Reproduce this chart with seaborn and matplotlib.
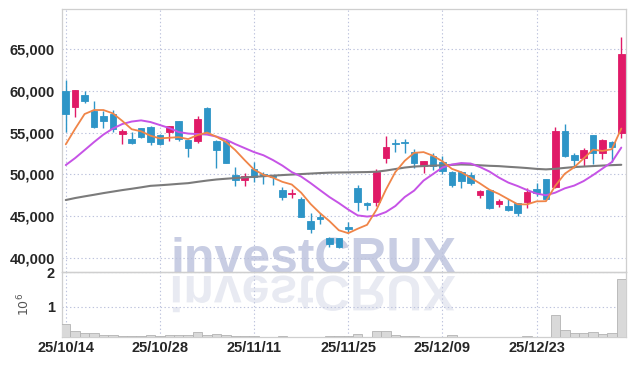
import numpy as np
import pandas as pd
import seaborn as sns
import matplotlib
matplotlib.use("Agg")
import matplotlib.pyplot as plt
import matplotlib.ticker as mticker
from matplotlib.textpath import TextPath
from matplotlib.patches import PathPatch
from matplotlib.font_manager import FontProperties
from matplotlib.transforms import Affine2D

# ---------------- data ----------------
dates = ["25/10/14", "25/10/15", "25/10/16", "25/10/17", "25/10/20", "25/10/21", "25/10/22", "25/10/23",
         "25/10/24", "25/10/27", "25/10/28", "25/10/29", "25/10/30", "25/10/31", "25/11/03", "25/11/04",
         "25/11/05", "25/11/06", "25/11/07", "25/11/10", "25/11/11", "25/11/12", "25/11/13", "25/11/14",
         "25/11/17", "25/11/18", "25/11/19", "25/11/20", "25/11/21", "25/11/24", "25/11/25", "25/11/26",
         "25/11/27", "25/11/28", "25/12/01", "25/12/02", "25/12/03", "25/12/04", "25/12/05", "25/12/08",
         "25/12/09", "25/12/10", "25/12/11", "25/12/12", "25/12/15", "25/12/16", "25/12/17", "25/12/18",
         "25/12/19", "25/12/22", "25/12/23", "25/12/24", "25/12/26", "25/12/29", "25/12/30", "26/01/02",
         "26/01/05", "26/01/06", "26/01/07", "26/01/08"]

open_ = [60000, 58090, 59490, 57570, 57010, 57180, 54860, 54190, 55540, 55660,
         54700, 55100, 56380, 54100, 54020, 57970, 54020, 54020, 49910, 49280,
         50630, 50070, 49910, 48110, 47640, 47000, 44440, 44840, 42400, 42400,
         43650, 48320, 46520, 46640, 51980, 53780, 53900, 52630, 50990, 52190,
         51510, 50310, 50310, 49910, 47510, 48110, 46470, 46200, 46520, 46710,
         48200, 49400, 48510, 55180, 52310, 51980, 54700, 52510, 53860, 54900]
high = [61290, 60090, 60000, 58770, 57570, 57700, 55380, 55100, 55600, 55780,
        54820, 55800, 56420, 54150, 57010, 58090, 54100, 54190, 50830, 50110,
        51430, 50310, 49950, 48440, 48230, 47310, 45320, 45400, 42450, 42420,
        44320, 48710, 46710, 50590, 54580, 54220, 54220, 52990, 51600, 52510,
        52190, 50400, 50400, 50230, 48100, 48150, 47040, 47000, 46600, 48320,
        48920, 49450, 55620, 56020, 52600, 53180, 54750, 54200, 53980, 66470]
low = [55100, 56820, 58500, 55570, 55570, 55100, 53620, 53590, 54400, 53500,
       53540, 53980, 54020, 52100, 53780, 55000, 50710, 51380, 48590, 48590,
       49110, 48870, 48750, 46920, 47120, 44900, 43000, 44040, 41250, 41200,
       43120, 45630, 45720, 46200, 51380, 52700, 52510, 50780, 50190, 50510,
       50000, 48510, 48390, 48680, 47120, 45900, 46110, 45600, 45000, 45990,
       47400, 46960, 48400, 52100, 50710, 50990, 51230, 51800, 51500, 54300]
close = [57250, 60090, 58810, 55660, 56410, 55420, 55210, 53780, 54500, 53900,
         53620, 55780, 54260, 53180, 56650, 55100, 52940, 51380, 49280, 49790,
         49670, 49830, 49670, 47240, 47790, 44920, 43440, 44600, 41610, 41320,
         43440, 46710, 46350, 50310, 53230, 53590, 53710, 51380, 51590, 50990,
         50430, 48710, 49190, 48990, 48030, 45990, 46830, 45720, 45320, 47910,
         47790, 47040, 55180, 52190, 51710, 52900, 52580, 54100, 53300, 64400]
volume = [490000, 290000, 230000, 230000, 180000, 180000, 150000, 150000, 150000, 180000,
          160000, 180000, 180000, 180000, 260000, 190000, 210000, 180000, 150000, 150000,
          160000, 130000, 130000, 150000, 130000, 130000, 130000, 130000, 150000, 140000,
          140000, 200000, 130000, 280000, 280000, 180000, 150000, 150000, 130000, 120000,
          130000, 180000, 130000, 120000, 120000, 120000, 120000, 115000, 120000, 150000,
          120000, 120000, 760000, 310000, 235000, 235000, 260000, 205000, 235000, 1810000]
ma_short = [53590, 55460, 57220, 57700, 57700, 57300, 56400, 55400, 55150, 54620,
            54300, 54380, 54450, 54220, 54700, 55000, 54500, 53880, 52900, 51700,
            50560, 49950, 49600, 49100, 48780, 47800, 46450, 45350, 44400, 43300,
            42950, 43480, 43950, 45760, 48160, 50270, 51620, 52570, 52660, 52220,
            51560, 50660, 50250, 49590, 48900, 48150, 47650, 47020, 46410, 46400,
            46760, 46780, 48640, 50070, 50850, 51900, 52950, 52800, 53010, 55480]
ma_mid = [51110, 51950, 52900, 53860, 54760, 55480, 56020, 56320, 56460, 56260,
          55900, 55540, 55060, 54880, 54820, 54760, 54520, 54160, 53620, 53140,
          52660, 52280, 51710, 51050, 50270, 49730, 48950, 48110, 47280, 46560,
          45780, 45080, 44940, 45060, 45480, 46200, 47280, 48050, 49250, 50030,
          50810, 51170, 51350, 51290, 50870, 50330, 49610, 49010, 48590, 48110,
          47690, 47490, 47810, 48320, 48650, 49190, 49910, 50690, 51470, 53200]
ma_long = [46920, 47160, 47360, 47550, 47750, 47930, 48110, 48270, 48440, 48620,
           48690, 48770, 48860, 48940, 49100, 49250, 49380, 49470, 49550, 49630,
           49700, 49770, 49840, 49910, 49970, 50030, 50090, 50150, 50200, 50220,
           50230, 50250, 50270, 50310, 50450, 50630, 50810, 50930, 50990, 51040,
           51080, 51130, 51180, 51150, 51080, 51020, 50980, 50900, 50830, 50750,
           50650, 50590, 50660, 50770, 50870, 50930, 50990, 51050, 51100, 51140]
price_ticks = [40000, 45000, 50000, 55000, 60000, 65000]
volume_ticks = [1000000, 2000000]
volume_tick_labels = ["1", "2"]

# ---------------- styling ----------------
UP = "#e01a67"
DOWN = "#2e95c7"
C_SHORT = "#f08548"
C_MID = "#c653e6"
C_LONG = "#7b7b7b"
GRID = "#bcc2dc"
SPINE = "#cfcfcf"
TICKC = "#262626"

sns.set_theme(style="white")
plt.rcParams["font.family"] = ["Liberation Sans Narrow", "Liberation Sans", "DejaVu Sans"]

df = pd.DataFrame({
    "idx": np.arange(len(dates)), "date": dates, "open": open_, "high": high, "low": low,
    "close": close, "volume": volume, "ma_short": ma_short, "ma_mid": ma_mid, "ma_long": ma_long,
})

W, H = 634, 366
fig = plt.figure(figsize=(W / 100, H / 100), dpi=100)
fig.patch.set_facecolor("white")
L, R = 62, 626
ax = fig.add_axes([L / W, 1 - 272 / H, (R - L) / W, (272 - 9) / H])
axv = fig.add_axes([L / W, 1 - 337 / H, (R - L) / W, (337 - 272) / H], sharex=ax)
for a in (ax, axv):
    a.set_facecolor("none")

# watermark (behind the axes)
wm_prop = FontProperties(family="Liberation Sans", weight="bold")
fig.text(314 / W, 1 - 273 / H, "investCRUX", ha="center", va="baseline", fontsize=36,
         family="Liberation Sans", weight="bold", color="#c8cde3", zorder=-2)
tp = TextPath((0, 0), "investCRUX", size=50, prop=wm_prop)
ext = tp.get_extents()
tx = 314 - (ext.x0 + ext.x1) / 2
refl = PathPatch(tp, transform=Affine2D().scale(1, -1).translate(tx, H - 276),
                 facecolor="#e8eaf2", edgecolor="none", zorder=-3)
fig.add_artist(refl)

# candles
up = df["close"] >= df["open"]
cols = np.where(up, UP, DOWN)
ax.vlines(df["idx"], df["low"], df["high"], colors=cols, lw=1.0, zorder=3)
ax.bar(df["idx"], (df["close"] - df["open"]).abs(), bottom=np.minimum(df["open"], df["close"]),
       width=0.7, color=cols, edgecolor=cols, linewidth=0.6, zorder=4)

# moving averages
sns.lineplot(data=df, x="idx", y="ma_long", ax=ax, color=C_LONG, lw=1.5, zorder=5)
sns.lineplot(data=df, x="idx", y="ma_mid", ax=ax, color=C_MID, lw=1.4, zorder=6)
sns.lineplot(data=df, x="idx", y="ma_short", ax=ax, color=C_SHORT, lw=1.3, zorder=7)

# volume
axv.bar(df["idx"], df["volume"], width=1.0, color="#d9d9d9", edgecolor="#b3b3b3", linewidth=0.6, zorder=3)

# axes formatting
ax.set_xlim(-0.4, 59.5)
ax.set_ylim(38300, 69800)
axv.set_ylim(120000, 2000000)
ax.set_yticks(price_ticks)
ax.yaxis.set_major_formatter(mticker.FuncFormatter(lambda v, p: f"{v:,.0f}"))
axv.set_yticks(volume_ticks)
axv.set_yticklabels(volume_tick_labels)
xt = list(range(0, len(dates), 10))
axv.set_xticks(xt)
axv.set_xticklabels([dates[i] for i in xt])
ax.tick_params(labelbottom=False)
for a in (ax, axv):
    a.set_xlabel("")
    a.set_ylabel("")
    a.grid(True, color=GRID, linestyle=(0, (1.2, 2.2)), linewidth=0.8)
    a.set_axisbelow(True)
    a.tick_params(axis="both", length=0, labelsize=10.5, colors=TICKC, pad=5)
    for lbl in a.get_xticklabels() + a.get_yticklabels():
        lbl.set_fontweight("bold")
    for s in a.spines.values():
        s.set_color(SPINE)
        s.set_linewidth(0.9)
ax.spines["bottom"].set_color("#bdbdbd")
axv.tick_params(axis="x", pad=3)
axv.set_ylabel(r"$10^{6}$", fontsize=9, color="#555555", family="DejaVu Sans")
axv.yaxis.set_label_coords(-0.053, 0.5)

fig.savefig("out.png", dpi=100)
